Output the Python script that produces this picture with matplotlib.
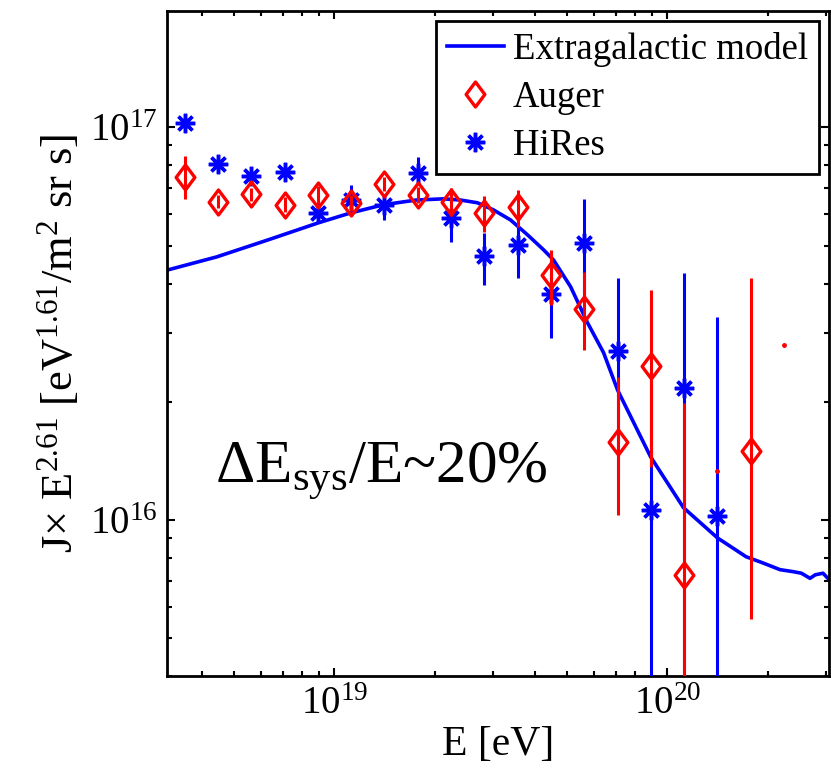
import numpy as np
import matplotlib
matplotlib.use('Agg')
import matplotlib.pyplot as plt
from matplotlib.path import Path
from matplotlib.ticker import LogLocator, NullFormatter

plt.rcParams['font.family'] = ['Liberation Serif', 'DejaVu Serif']
plt.rcParams['mathtext.fontset'] = 'custom'
plt.rcParams['mathtext.rm'] = 'Liberation Serif'
plt.rcParams['mathtext.it'] = 'Liberation Serif:italic'
plt.rcParams['mathtext.bf'] = 'Liberation Serif:bold'

# extragalactic model curve (log10 E, log10 J*E^2.61)
model_logE = [18.50, 18.646, 18.799, 18.952, 19.048, 19.147, 19.246, 19.327, 19.378,
              19.429, 19.477, 19.529, 19.580, 19.628, 19.658, 19.709, 19.760, 19.808,
              19.850, 19.949, 20.048, 20.150, 20.236, 20.287, 20.338, 20.377, 20.402,
              20.428, 20.444, 20.467, 20.486]
model_logJ = [16.637, 16.670, 16.713, 16.757, 16.782, 16.803, 16.815, 16.818, 16.815,
              16.808, 16.790, 16.764, 16.726, 16.688, 16.662, 16.594, 16.502, 16.426,
              16.331, 16.161, 16.031, 15.954, 15.906, 15.890, 15.873, 15.868, 15.864,
              15.851, 15.860, 15.864, 15.847]

# Auger points (J in units of 1e16)
auger_logE = [18.55, 18.65, 18.75, 18.85, 18.95, 19.05, 19.15, 19.25, 19.35,
              19.45, 19.55, 19.65, 19.75, 19.85, 19.95, 20.05, 20.25]
auger_J = [7.49, 6.47, 6.76, 6.35, 6.73, 6.43, 7.17, 6.73, 6.47,
           6.06, 6.28, 4.21, 3.44, 1.58, 2.46, 0.725, 1.50]
auger_lo = [0.93, 0.25, 0.25, 0.28, 0.35, 0.3, 0.3, 0.3, 0.54,
            0.64, 0.70, 0.68, 0.73, 0.55, 1.10, 1.26, 0.94]
auger_hi = [0.97, 0.25, 0.25, 0.28, 0.35, 0.3, 0.3, 0.3, 0.55,
            0.61, 0.65, 0.67, 0.85, 0.73, 1.40, 1.26, 2.63]
# the two tiny red dots
auger_dot_logE = [20.15, 20.35]
auger_dot_J = [1.33, 2.79]

# HiRes points
hires_logE = [18.55, 18.65, 18.75, 18.85, 18.95, 19.05, 19.15, 19.25, 19.35,
              19.45, 19.55, 19.65, 19.75, 19.85, 19.95, 20.05, 20.15]
hires_J = [10.29, 8.07, 7.52, 7.71, 6.04, 6.53, 6.35, 7.65, 5.87,
           4.71, 5.02, 3.77, 5.07, 2.70, 1.057, 2.17, 1.023]
hires_lo = [0, 0, 0, 0.2, 0, 0.55, 0.54, 0.44, 0.75,
            0.74, 0.88, 0.86, 1.51, 1.43, 1.2, 2.09, 2.26]
hires_hi = [0, 0, 0, 0.2, 0, 0.61, 0.32, 0.78, 0.41,
            0.67, 0.55, 0.86, 1.51, 1.43, 1.2, 2.09, 2.26]

scale = 1e16

fig = plt.figure(figsize=(8.31, 7.80), dpi=100)
ax = fig.add_axes([167/831, 1 - 676/780, 662/831, 665/780])

ax.plot(10**np.array(model_logE), 10**np.array(model_logJ), color='b', lw=2.6,
        label='Extragalactic model', zorder=2)

# HiRes
hE = 10**np.array(hires_logE)
hJ = np.array(hires_J) * scale
ax.errorbar(hE, hJ, yerr=[np.array(hires_lo) * scale, np.array(hires_hi) * scale],
            fmt='none', ecolor='b', elinewidth=2.2, capsize=0, zorder=3)
ax.plot(hE, hJ, ls='none', marker=(8, 2, 0), ms=14, mec='b', mew=2.5,
        label='HiRes', zorder=4)

# Auger
diamond = Path([(0, 1), (0.75, 0), (0, -1), (-0.75, 0), (0, 1)],
               [Path.MOVETO, Path.LINETO, Path.LINETO, Path.LINETO, Path.CLOSEPOLY])
aE = 10**np.array(auger_logE)
aJ = np.array(auger_J) * scale
ax.errorbar(aE, aJ, yerr=[np.array(auger_lo) * scale, np.array(auger_hi) * scale],
            fmt='none', ecolor='r', elinewidth=2.2, capsize=0, zorder=5)
ax.plot(aE, aJ, ls='none', marker=diamond, ms=18, mfc='none', mec='r', mew=2.4,
        label='Auger', zorder=6)
ax.plot(10**np.array(auger_dot_logE), np.array(auger_dot_J) * scale, ls='none',
        marker='o', ms=2.5, color='r', zorder=6)

ax.set_xscale('log')
ax.set_yscale('log')
ax.set_xlim(10**18.497, 10**20.485)
ax.set_ylim(4.0e15, 1.98e17)

ax.xaxis.set_major_locator(LogLocator(base=10))
ax.xaxis.set_minor_locator(LogLocator(base=10, subs=np.arange(2, 10)))
ax.yaxis.set_minor_locator(LogLocator(base=10, subs=np.arange(2, 10)))
ax.xaxis.set_minor_formatter(NullFormatter())
ax.yaxis.set_minor_formatter(NullFormatter())

ax.tick_params(which='both', direction='in', top=True, right=True, width=1.5,
               labelsize=28, pad=7)
ax.tick_params(which='major', length=6)
ax.tick_params(which='minor', length=3.5)
for s in ax.spines.values():
    s.set_linewidth(2.0)

ax.set_xlabel('E [eV]', fontsize=30, labelpad=2)
ax.set_ylabel('J× E$^{2.61}$ [eV$^{1.61}$/m$^2$ sr s]', fontsize=32, labelpad=6)

ax.text(10**18.64, 10**16.095, r'ΔE$_{\mathrm{sys}}$/E~20%', fontsize=44)

handles, labels = ax.get_legend_handles_labels()
order = [labels.index('Extragalactic model'), labels.index('Auger'), labels.index('HiRes')]
leg = ax.legend([handles[i] for i in order], [labels[i] for i in order],
                loc='upper right', fontsize=26.5, fancybox=False, framealpha=1,
                edgecolor='k', borderaxespad=0.27, borderpad=0.3,
                handlelength=1.55, handletextpad=0.25, labelspacing=0.37)
leg.get_frame().set_linewidth(2.0)

fig.savefig('out.png', dpi=100)
